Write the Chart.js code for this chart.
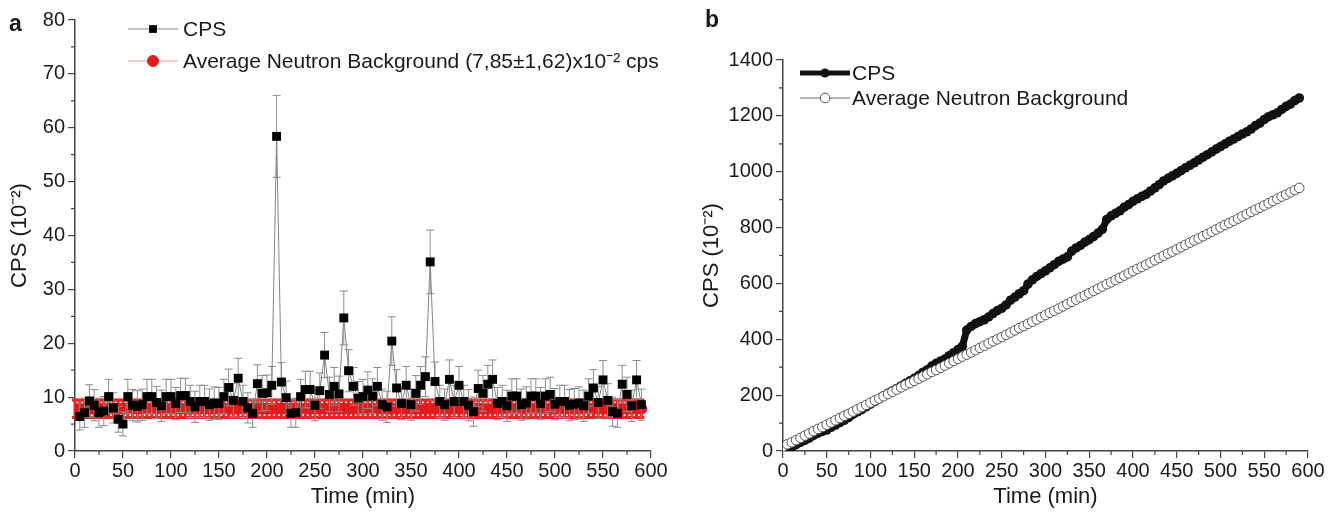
<!DOCTYPE html>
<html>
<head>
<meta charset="utf-8">
<script src="https://cdn.jsdelivr.net/npm/chart.js@4.4.1/dist/chart.umd.min.js"></script>
<style>
  html, body { margin: 0; padding: 0; background: #fff; }
  #wrap { position: relative; width: 1334px; height: 512px; overflow: hidden; }
  canvas { position: absolute; top: 0; }
  #chartA { left: 0; }
  #chartB { left: 680px; }
</style>
</head>
<body>
<div id="wrap">
  <canvas id="chartA" width="680" height="512"></canvas>
  <canvas id="chartB" width="654" height="512"></canvas>
</div>
<script>
// =========================================================================
// DATA
// =========================================================================

// sample times (min), panel a CPS points
const times = [
    5, 10, 15, 20, 25, 30, 35, 40, 45, 50,
    55, 60, 65, 70, 75, 80, 85, 90, 95, 100,
    105, 110, 115, 120, 125, 130, 135, 140, 145, 150,
    155, 160, 165, 170, 175, 180, 185, 190, 195, 200,
    205, 210, 215, 220, 225, 230, 235, 240, 245, 250,
    255, 260, 265, 270, 275, 280, 285, 290, 295, 300,
    305, 310, 315, 320, 325, 330, 335, 340, 345, 350,
    355, 360, 365, 370, 375, 380, 385, 390, 395, 400,
    405, 410, 415, 420, 425, 430, 435, 440, 445, 450,
    455, 460, 465, 470, 475, 480, 485, 490, 495, 500,
    505, 510, 515, 520, 525, 530, 535, 540, 545, 550,
    555, 560, 565, 570, 575, 580, 585, 590
];

// CPS (x10^-2)
const cpsValues = [
    6.4, 7.1, 9.3, 8.5, 7.1, 7.4, 10.1, 8.0, 5.9, 5.0,
    10.1, 8.5, 8.3, 8.6, 10.1, 10.1, 9.0, 8.4, 10.1, 10.1,
    8.8, 10.3, 10.3, 9.2, 8.2, 9.2, 9.2, 8.6, 8.9, 8.8,
    10.1, 11.8, 9.4, 13.5, 9.2, 8.0, 7.0, 12.5, 10.7, 10.8,
    12.2, 58.4, 12.8, 9.9, 7.0, 7.1, 10.1, 11.4, 11.4, 8.5,
    11.2, 17.8, 10.5, 12.0, 10.6, 24.7, 14.9, 12.0, 9.8, 10.1,
    11.3, 10.2, 12.0, 8.6, 8.2, 20.4, 11.7, 8.8, 12.2, 8.6,
    10.7, 12.2, 13.8, 35.1, 12.9, 9.2, 8.6, 13.3, 9.2, 12.2,
    9.2, 8.5, 7.3, 11.6, 10.7, 12.4, 13.3, 8.8, 9.2, 8.4,
    10.2, 10.2, 8.6, 8.9, 10.2, 10.2, 8.8, 10.2, 10.5, 8.7,
    9.2, 9.2, 8.5, 8.7, 8.9, 8.4, 10.2, 11.7, 9.0, 13.2,
    9.4, 7.3, 7.0, 12.4, 10.5, 8.4, 13.2, 8.6
];

// CPS error bars (+/-)
const cpsErrors = [
    2.5, 2.7, 3.0, 2.9, 2.7, 2.7, 3.2, 2.8, 2.4, 2.2,
    3.2, 2.9, 2.9, 2.9, 3.2, 3.2, 3.0, 2.9, 3.2, 3.2,
    3.0, 3.2, 3.2, 3.0, 2.9, 3.0, 3.0, 2.9, 3.0, 3.0,
    3.2, 3.4, 3.1, 3.7, 3.0, 2.8, 2.6, 3.5, 3.3, 3.3,
    3.5, 7.6, 3.6, 3.1, 2.6, 2.7, 3.2, 3.4, 3.4, 2.9,
    3.3, 4.2, 3.2, 3.5, 3.3, 5.0, 3.9, 3.5, 3.1, 3.2,
    3.4, 3.2, 3.5, 2.9, 2.9, 4.5, 3.4, 3.0, 3.5, 2.9,
    3.3, 3.5, 3.7, 5.9, 3.6, 3.0, 2.9, 3.6, 3.0, 3.5,
    3.0, 2.9, 2.7, 3.4, 3.3, 3.5, 3.6, 3.0, 3.0, 2.9,
    3.2, 3.2, 2.9, 3.0, 3.2, 3.2, 3.0, 3.2, 3.2, 2.9,
    3.0, 3.0, 2.9, 2.9, 3.0, 2.9, 3.2, 3.4, 3.0, 3.6,
    3.1, 2.7, 2.6, 3.5, 3.2, 2.9, 3.6, 2.9
];

// average neutron background (7,85 +/- 1,62) x10^-2 cps
const bgLevel = 7.85;
const bgError = 1.62;

// background sample times (min)
const bgTimes = [
    0, 5, 10, 15, 20, 25, 30, 35, 40, 45,
    50, 55, 60, 65, 70, 75, 80, 85, 90, 95,
    100, 105, 110, 115, 120, 125, 130, 135, 140, 145,
    150, 155, 160, 165, 170, 175, 180, 185, 190, 195,
    200, 205, 210, 215, 220, 225, 230, 235, 240, 245,
    250, 255, 260, 265, 270, 275, 280, 285, 290, 295,
    300, 305, 310, 315, 320, 325, 330, 335, 340, 345,
    350, 355, 360, 365, 370, 375, 380, 385, 390, 395,
    400, 405, 410, 415, 420, 425, 430, 435, 440, 445,
    450, 455, 460, 465, 470, 475, 480, 485, 490, 495,
    500, 505, 510, 515, 520, 525, 530, 535, 540, 545,
    550, 555, 560, 565, 570, 575, 580, 585, 590
];

// panel b: accumulated CPS (x10^-2), same times as panel a
const cpsCumulative = [
    6, 14, 23, 31, 38, 46, 56, 64, 70, 75,
    85, 93, 102, 110, 120, 131, 140, 148, 158, 168,
    177, 187, 198, 207, 215, 224, 233, 242, 251, 260,
    270, 282, 291, 304, 314, 322, 329, 341, 352, 363,
    375, 433, 446, 456, 463, 470, 480, 492, 503, 511,
    523, 540, 551, 563, 574, 598, 613, 625, 635, 645,
    656, 667, 679, 687, 695, 716, 727, 736, 748, 757,
    768, 780, 794, 829, 842, 851, 860, 873, 882, 894,
    903, 912, 919, 931, 942, 954, 967, 976, 985, 994,
    1004, 1014, 1023, 1032, 1042, 1052, 1061, 1071, 1081, 1090,
    1099, 1109, 1117, 1126, 1135, 1143, 1153, 1165, 1174, 1187,
    1197, 1204, 1211, 1223, 1234, 1242, 1255, 1264
];

// panel b: accumulated background (x10^-2), bgTimes
const bgCumulative = [
    16, 24, 31, 39, 47, 55, 63, 71, 79, 86,
    94, 102, 110, 118, 126, 133, 141, 149, 157, 165,
    173, 181, 188, 196, 204, 212, 220, 228, 236, 243,
    251, 259, 267, 275, 283, 290, 298, 306, 314, 322,
    330, 338, 345, 353, 361, 369, 377, 385, 393, 400,
    408, 416, 424, 432, 440, 447, 455, 463, 471, 479,
    487, 495, 502, 510, 518, 526, 534, 542, 550, 557,
    565, 573, 581, 589, 597, 604, 612, 620, 628, 636,
    644, 652, 659, 667, 675, 683, 691, 699, 707, 714,
    722, 730, 738, 746, 754, 761, 769, 777, 785, 793,
    801, 809, 816, 824, 832, 840, 848, 856, 864, 871,
    879, 887, 895, 903, 911, 918, 926, 934, 942
];

// tick labels
const xTickValues = [0, 50, 100, 150, 200, 250, 300, 350, 400, 450, 500, 550, 600];
const yTickValuesA = [0, 10, 20, 30, 40, 50, 60, 70, 80];
const yTickValuesB = [0, 200, 400, 600, 800, 1000, 1200, 1400];

const labelCps = 'CPS';
const labelBgA = 'Average Neutron Background (7,85\u00b11,62)x10\u207b\u00b2 cps';
const labelBgB = 'Average Neutron Background';
const axisTitleY = 'CPS (10\u207b\u00b2)';
const axisTitleX = 'Time (min)';

// =========================================================================
// STYLE
// =========================================================================

const FONT = '"Liberation Sans", Arial, Helvetica, sans-serif';
const textColor = '#1a1a1a';
const axisColor = '#444444';

Chart.defaults.font.family = FONT;
Chart.defaults.font.size = 20;
Chart.defaults.color = textColor;

// =========================================================================
// PLUGINS
// =========================================================================

// vertical error bars with caps, drawn under each dataset's line/points
const errorBarsPlugin = {
    id: 'errorBars',
    beforeDatasetDraw(chart, args) {
        const ds = chart.data.datasets[args.index];
        if (!ds.errorBars) return;
        const eb = ds.errorBars;
        const yScale = chart.scales.y;
        const ctx = chart.ctx;
        ctx.save();
        ctx.strokeStyle = eb.color;
        args.meta.data.forEach((pt, i) => {
            const v = ds.data[i].y;
            const err = eb.values[i];
            const yTop = yScale.getPixelForValue(v + err);
            const yBot = yScale.getPixelForValue(v - err);
            ctx.lineWidth = eb.width;
            ctx.beginPath();
            ctx.moveTo(pt.x, yTop);
            ctx.lineTo(pt.x, yBot);
            ctx.stroke();
            ctx.lineWidth = eb.capWidth || eb.width;
            ctx.beginPath();
            ctx.moveTo(pt.x - eb.cap, yTop);
            ctx.lineTo(pt.x + eb.cap, yTop);
            ctx.moveTo(pt.x - eb.cap, yBot);
            ctx.lineTo(pt.x + eb.cap, yBot);
            ctx.stroke();
        });
        ctx.restore();
    }
};

// panel letter, minor ticks and an inline legend (line + marker samples)
const panelDecorPlugin = {
    id: 'panelDecor',
    afterDraw(chart, args, opts) {
        const ctx = chart.ctx;
        const xs = chart.scales.x;
        const ys = chart.scales.y;
        ctx.save();

        // panel letter
        ctx.fillStyle = textColor;
        ctx.font = `bold 23px ${FONT}`;
        ctx.textAlign = 'left';
        ctx.textBaseline = 'alphabetic';
        ctx.fillText(opts.letter, opts.letterX, opts.letterY);

        // minor ticks halfway between labelled ticks
        ctx.strokeStyle = axisColor;
        ctx.lineWidth = 1.2;
        ctx.beginPath();
        for (let i = 0; i < xs.ticks.length - 1; i++) {
            const px = xs.getPixelForValue((xs.ticks[i].value + xs.ticks[i + 1].value) / 2);
            ctx.moveTo(px, xs.top);
            ctx.lineTo(px, xs.top + 4);
        }
        for (let i = 0; i < ys.ticks.length - 1; i++) {
            const py = ys.getPixelForValue((ys.ticks[i].value + ys.ticks[i + 1].value) / 2);
            ctx.moveTo(ys.right, py);
            ctx.lineTo(ys.right - 4, py);
        }
        ctx.stroke();

        // legend
        ctx.font = `21px ${FONT}`;
        ctx.textBaseline = 'middle';
        opts.rows.forEach(row => {
            const ds = chart.data.datasets[row.dataset];
            const x0 = opts.x;
            const x1 = x0 + opts.sampleWidth;
            const cx = (x0 + x1) / 2;
            ctx.strokeStyle = row.lineColor || ds.borderColor;
            ctx.lineWidth = row.lineWidth || ds.borderWidth;
            ctx.beginPath();
            ctx.moveTo(x0, row.y);
            ctx.lineTo(x1, row.y);
            ctx.stroke();
            ctx.fillStyle = ds.pointBackgroundColor;
            ctx.strokeStyle = ds.pointBorderColor;
            ctx.lineWidth = ds.pointBorderWidth;
            Chart.helpers.drawPoint(ctx, {
                pointStyle: ds.pointStyle,
                radius: row.markerRadius || ds.pointRadius,
                borderWidth: ds.pointBorderWidth,
                rotation: 0
            }, cx, row.y);
            ctx.fillStyle = textColor;
            ctx.fillText(ds.label, x1 + opts.textGap, row.y + 1);
        });
        ctx.restore();
    }
};

function axisX(height) {
    return {
        type: 'linear',
        min: 0,
        max: 600,
        afterBuildTicks: s => { s.ticks = xTickValues.map(v => ({ value: v })); },
        afterFit: s => { s.height = height; },
        grid: { display: true, drawOnChartArea: false, drawTicks: true, tickLength: 7, color: axisColor, lineWidth: 1.2 },
        border: { display: true, color: axisColor, width: 1.5 },
        ticks: { color: textColor, font: { size: 20 }, padding: 1, maxRotation: 0, autoSkip: false },
        title: { display: true, text: axisTitleX, color: textColor, font: { size: 22 }, padding: { top: 0, bottom: 2 } }
    };
}

function axisY(max, tickValues, width, titlePad) {
    return {
        type: 'linear',
        min: 0,
        max: max,
        afterBuildTicks: s => { s.ticks = tickValues.map(v => ({ value: v })); },
        afterFit: s => { s.width = width; },
        grid: { display: true, drawOnChartArea: false, drawTicks: true, tickLength: 7, color: axisColor, lineWidth: 1.2 },
        border: { display: true, color: axisColor, width: 1.5 },
        ticks: { color: textColor, font: { size: 20 }, padding: 3, autoSkip: false, callback: v => String(v) },
        title: { display: true, text: axisTitleY, color: textColor, font: { size: 22 }, padding: { top: titlePad, bottom: 0 } }
    };
}

// =========================================================================
// PANEL A - CPS vs time with error bars
// =========================================================================

new Chart(document.getElementById('chartA'), {
    type: 'line',
    data: {
        datasets: [
            {
                label: labelCps,
                data: times.map((t, i) => ({ x: t, y: cpsValues[i] })),
                borderColor: '#858585',
                borderWidth: 1,
                pointStyle: 'rect',
                pointRadius: 6.3,
                pointBackgroundColor: '#000000',
                pointBorderColor: '#000000',
                pointBorderWidth: 0,
                errorBars: { values: cpsErrors, color: '#8c8c8c', width: 1, cap: 4 }
            },
            {
                label: labelBgA,
                data: bgTimes.map(t => ({ x: t, y: bgLevel })),
                borderColor: '#f19a9a',
                borderWidth: 1,
                pointStyle: 'circle',
                pointRadius: 5.5,
                pointBackgroundColor: '#e31a1c',
                pointBorderColor: '#e31a1c',
                pointBorderWidth: 1,
                errorBars: { values: bgTimes.map(() => bgError), color: '#e3282a', width: 3, capWidth: 3, cap: 3 }
            }
        ]
    },
    options: {
        responsive: false,
        animation: false,
        layout: { padding: { left: 0, top: 20, right: 29, bottom: 0 } },
        plugins: {
            legend: { display: false },
            tooltip: { enabled: false },
            panelDecor: {
                letter: 'a',
                letterX: 9,
                letterY: 31,
                x: 128,
                sampleWidth: 50,
                textGap: 5,
                rows: [
                    { dataset: 0, y: 29, markerRadius: 5.5 },
                    { dataset: 1, y: 61, lineColor: '#f19a9a' }
                ]
            }
        },
        scales: {
            x: axisX(61),
            y: axisY(80, yTickValuesA, 75, 7)
        }
    },
    plugins: [errorBarsPlugin, panelDecorPlugin]
});

// =========================================================================
// PANEL B - accumulated counts
// =========================================================================

new Chart(document.getElementById('chartB'), {
    type: 'line',
    data: {
        datasets: [
            {
                label: labelBgB,
                data: bgTimes.map((t, i) => ({ x: t, y: bgCumulative[i] })),
                borderColor: '#6e6e6e',
                borderWidth: 1,
                pointStyle: 'circle',
                pointRadius: 4.8,
                pointBackgroundColor: '#ffffff',
                pointBorderColor: '#555555',
                pointBorderWidth: 1
            },
            {
                label: labelCps,
                data: times.map((t, i) => ({ x: t, y: cpsCumulative[i] })),
                borderColor: '#111111',
                borderWidth: 7,
                pointStyle: 'circle',
                pointRadius: 4.8,
                pointBackgroundColor: '#111111',
                pointBorderColor: '#111111',
                pointBorderWidth: 0
            }
        ]
    },
    options: {
        responsive: false,
        animation: false,
        layout: { padding: { left: 0, top: 60, right: 26, bottom: 0 } },
        plugins: {
            legend: { display: false },
            tooltip: { enabled: false },
            panelDecor: {
                letter: 'b',
                letterX: 25,
                letterY: 27,
                x: 120,
                sampleWidth: 50,
                textGap: 2,
                rows: [
                    { dataset: 1, y: 73, lineWidth: 5, markerRadius: 4.5 },
                    { dataset: 0, y: 98 }
                ]
            }
        },
        scales: {
            x: axisX(61),
            y: axisY(1400, yTickValuesB, 103, 19)
        }
    },
    plugins: [errorBarsPlugin, panelDecorPlugin]
});
</script>
</body>
</html>
